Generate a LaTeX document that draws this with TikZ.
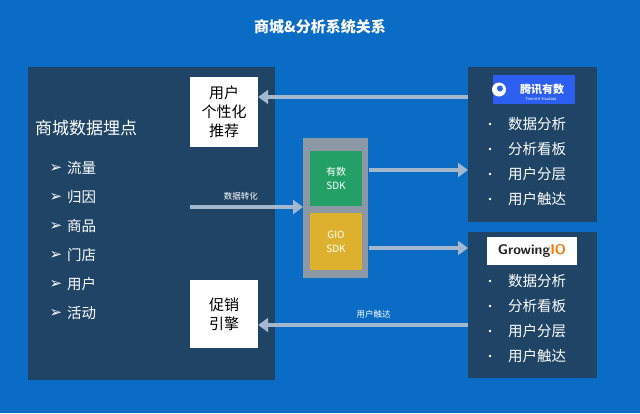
\documentclass[tikz,border=0pt]{standalone}
\usepackage{fontspec}
\setmainfont{Noto Sans CJK SC}
\newfontfamily\symfont{DejaVu Sans}
\usetikzlibrary{positioning,arrows.meta}
\definecolor{bgblue}{HTML}{0A6CC4}
\definecolor{panel}{HTML}{1F4465}
\definecolor{flow}{HTML}{A3B8CE}
\definecolor{sdkgray}{HTML}{8C98A4}
\definecolor{sdkgreen}{HTML}{23A065}
\definecolor{sdkyellow}{HTML}{DDB12E}
\definecolor{txblue}{HTML}{2C5EEF}
\tikzset{
  panelbox/.style={fill=panel, draw=none},
  whitebox/.style={fill=white, draw=none, text=black, font=\fontsize{15}{19}\selectfont, align=center, inner sep=0pt},
  sdk/.style={draw=none, text=white, font=\fontsize{10}{14}\selectfont, align=center, minimum width=52pt, minimum height=55pt},
  flowarrow/.style={draw=flow, line width=4pt, -{Triangle[length=10pt,width=14pt]}},
  item/.style={text=white, anchor=west, font=\fontsize{14.5}{16}\selectfont, inner sep=0pt},
  small/.style={text=white, font=\fontsize{8.5}{10}\selectfont}
}
\begin{document}
\begin{tikzpicture}[x=1pt,y=-1pt]
  \fill[bgblue] (0,0) rectangle (640,413);
  \useasboundingbox (0,0) rectangle (640,413);
  \node[text=white, font=\bfseries\fontsize{15}{18}\selectfont] (title) at (320,27) {商城\&分析系统关系};

  % left panel
  \fill[panelbox] (28,67) rectangle (275,380);
  \node[text=white, anchor=west, font=\fontsize{17}{20}\selectfont, inner sep=0pt] (mall) at (35,128) {商城数据埋点};
  \foreach \t [count=\i] in {流量,归因,商品,门店,用户,活动} {
    \node[item] (li\i) at (67,139+29*\i) {\t};
    \node[text=white, font=\symfont\fontsize{15}{16}\selectfont, inner sep=0pt] at (56,139+29*\i) {➢};
  }
  \node[whitebox, minimum width=68pt, minimum height=70pt] (rec) at (224,112) {用户\\个性化\\推荐};
  \node[whitebox, minimum width=68pt, minimum height=68pt] (promo) at (224,314) {促销\\引擎};
  \coordinate (src) at (190,207);

  % sdk
  \fill[sdkgray] (303,138) rectangle (368,278);
  \node[sdk, fill=sdkgreen] (ysdk) at (336,178) {有数\\SDK};
  \node[sdk, fill=sdkyellow, minimum height=57pt] (gsdk) at (336,241.5) {GIO\\SDK};
  \coordinate (sdkin) at (303,207);

  % right panels
  \fill[panelbox] (468,67) rectangle (597,222);
  \fill[panelbox] (468,232) rectangle (597,378);
  \node[fill=txblue, text=white, minimum width=82pt, minimum height=29pt, font=\bfseries\itshape\fontsize{11}{12}\selectfont, inner sep=0pt] (tx) at (534,89.5) {\hspace{16pt}腾讯有数};
  \node[text=white, font=\fontsize{4}{5}\selectfont] at (541,99) {Tencent Youdata};
  \fill[white] (499,89.5) circle (7pt);
  \fill[txblue] (500,88.5) circle (3pt);
  \node[fill=white, text=black!85, minimum width=90pt, minimum height=28pt, font=\fontsize{14}{16}\selectfont\sffamily\bfseries, inner sep=0pt] (gio) at (532,251) {Growing\textcolor{orange!90!red}{IO}};
  \foreach \t [count=\i] in {数据分析,分析看板,用户分层,用户触达} {
    \node[item] (a\i) at (508,99+25*\i) {\t};
    \fill[white] (490,99+25*\i) circle (1.3pt);
    \node[item] (b\i) at (508,256+25*\i) {\t};
    \fill[white] (490,256+25*\i) circle (1.3pt);
  }
  \coordinate (p1) at (468,97);
  \coordinate (p1in) at (468,170);
  \coordinate (p2in) at (468,248);
  \coordinate (p2) at (468,325);

  % flows
  \draw[flowarrow] (p1) -- (rec.east |- p1);
  \draw[flowarrow] (src) -- (sdkin) node[small, pos=0.45, above=1pt] {数据转化};
  \draw[flowarrow] (ysdk.east |- p1in) ++(6.5,0) -- (p1in);
  \draw[flowarrow] (gsdk.east |- p2in) ++(6.5,0) -- (p2in);
  \draw[flowarrow] (p2) -- (promo.east |- p2) node[small, pos=0.45, above=1pt] {用户触达};
\end{tikzpicture}
\end{document}
